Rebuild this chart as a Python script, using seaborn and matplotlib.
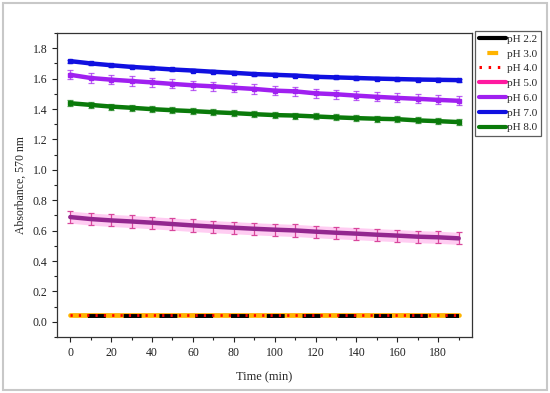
import numpy as np
import pandas as pd
import matplotlib
matplotlib.use("Agg")
import matplotlib.pyplot as plt
from matplotlib.lines import Line2D
from matplotlib.patches import Rectangle
from matplotlib.ticker import MultipleLocator
import seaborn as sns

# time points (min)
time = [0, 10, 20, 30, 40, 50, 60, 70, 80, 90,
        100, 110, 120, 130, 140, 150, 160, 170, 180, 190]

# absorbance at 570 nm for each pH
ph22 = [0.040] * 20
ph30 = [0.046] * 20
ph40 = [0.047] * 20
ph50 = [0.689, 0.676, 0.667, 0.660, 0.652, 0.643, 0.634, 0.626, 0.619, 0.612,
        0.606, 0.601, 0.593, 0.586, 0.580, 0.573, 0.567, 0.560, 0.556, 0.549]
ph60 = [1.625, 1.604, 1.593, 1.584, 1.575, 1.565, 1.556, 1.549, 1.540, 1.532,
        1.521, 1.516, 1.503, 1.497, 1.488, 1.480, 1.473, 1.467, 1.460, 1.454]
ph70 = [1.715, 1.700, 1.688, 1.677, 1.669, 1.660, 1.653, 1.645, 1.638, 1.630,
        1.625, 1.620, 1.612, 1.608, 1.604, 1.600, 1.597, 1.594, 1.592, 1.590]
ph80 = [1.438, 1.427, 1.416, 1.408, 1.399, 1.392, 1.386, 1.379, 1.373, 1.366,
        1.360, 1.357, 1.351, 1.345, 1.340, 1.336, 1.333, 1.325, 1.320, 1.314]

# error bar half widths
err50 = 0.040
err60 = 0.030
err70 = 0.010
err80 = 0.020

labels = ["pH 2.2", "pH 3.0", "pH 4.0", "pH 5.0", "pH 6.0", "pH 7.0", "pH 8.0"]
colors = ["black", "#ffb400", "red", "#ff1aa0", "#a020f0", "#1010e0", "#0a7a0a"]

sns.set_style("ticks")
plt.rcParams['font.family'] = ['Liberation Serif', 'DejaVu Serif']

fig = plt.figure(figsize=(5.5, 3.93), dpi=100)
ax = fig.add_axes([0.1036, 0.1425, 0.7546, 0.7735])

df = pd.DataFrame({"time": time, "ph22": ph22, "ph30": ph30, "ph40": ph40,
                   "ph50": ph50, "ph60": ph60, "ph70": ph70, "ph80": ph80})

# flat low-pH curves
ax.fill_between(df["time"], df["ph30"] - 0.014, df["ph30"] + 0.014,
                color="#ffd6f0", lw=0)
sns.lineplot(data=df, x="time", y="ph30", color=colors[1], lw=3.4, ax=ax)
sns.lineplot(data=df, x="time", y="ph22", color=colors[0], lw=2.8, ax=ax)
ax.lines[-1].set_linestyle((4.6, (4.6, 4.6)))
sns.lineplot(data=df, x="time", y="ph40", color=colors[2], lw=2.0, ax=ax)
ax.lines[-1].set_dashes((0.8, 2.2))

# pH 5.0 with pink band
ax.fill_between(df["time"], df["ph50"] - err50, df["ph50"] + err50,
                color="#ffcdf2", lw=0)
ax.errorbar(time, ph50, yerr=err50, fmt="none", ecolor="#d8479c",
            elinewidth=0.9, capsize=2.5, capthick=0.9)
sns.lineplot(data=df, x="time", y="ph50", color="#93278f", lw=3.2, ax=ax)

for col, c, e in [("ph60", colors[4], err60), ("ph70", colors[5], err70),
                  ("ph80", colors[6], err80)]:
    ax.errorbar(time, df[col], yerr=e, fmt="none", ecolor=c,
                elinewidth=0.9, capsize=2.5, capthick=0.9, alpha=0.7)
    sns.lineplot(data=df, x="time", y=col, color=c, lw=3.2, ax=ax)
    ax.plot(time, df[col], ls="none", marker="s", ms=2.5, color=c)

ax.set_xlim(-6.5, 196.5)
ax.set_ylim(-0.1, 1.9)
ax.xaxis.set_major_locator(MultipleLocator(20))
ax.xaxis.set_minor_locator(MultipleLocator(10))
ax.yaxis.set_major_locator(MultipleLocator(0.2))
ax.yaxis.set_minor_locator(MultipleLocator(0.1))
ax.yaxis.set_major_formatter(matplotlib.ticker.FormatStrFormatter("%.1f"))
ax.tick_params(which="both", direction="out", labelsize=8.5, colors="#222222")
ax.tick_params(which="major", length=3.5, width=0.8)
ax.tick_params(which="minor", length=2, width=0.8)
for s in ax.spines.values():
    s.set_color("#333333")
    s.set_linewidth(0.9)
ax.set_xlabel("Time (min)", fontsize=9, labelpad=9)
ax.set_ylabel("Absorbance, 570 nm", fontsize=8.5, labelpad=4)

handles = [Line2D([], [], color=colors[0], lw=3),
           Line2D([], [], color=colors[1], lw=3, linestyle=(10.6, (2.6, 10))),
           Line2D([], [], color=colors[2], lw=2.2, dashes=(0.8, 2.2)),
           Line2D([], [], color=colors[3], lw=3),
           Line2D([], [], color=colors[4], lw=3),
           Line2D([], [], color=colors[5], lw=3),
           Line2D([], [], color=colors[6], lw=3)]
leg = fig.legend(handles, labels, loc="upper left",
                 bbox_to_anchor=(0.864, 0.922), fontsize=8, frameon=True,
                 fancybox=False, handlelength=2.5, handletextpad=0.1,
                 borderpad=0.3, labelspacing=0.45, borderaxespad=0)
leg.get_frame().set_edgecolor("#333333")
leg.get_frame().set_linewidth(0.9)

fig.patches.append(Rectangle((0.006, 0.008), 0.988, 0.984,
                             transform=fig.transFigure, fill=False,
                             edgecolor="#c8c8c8", lw=1.5))

fig.savefig("out.png", dpi=100)
